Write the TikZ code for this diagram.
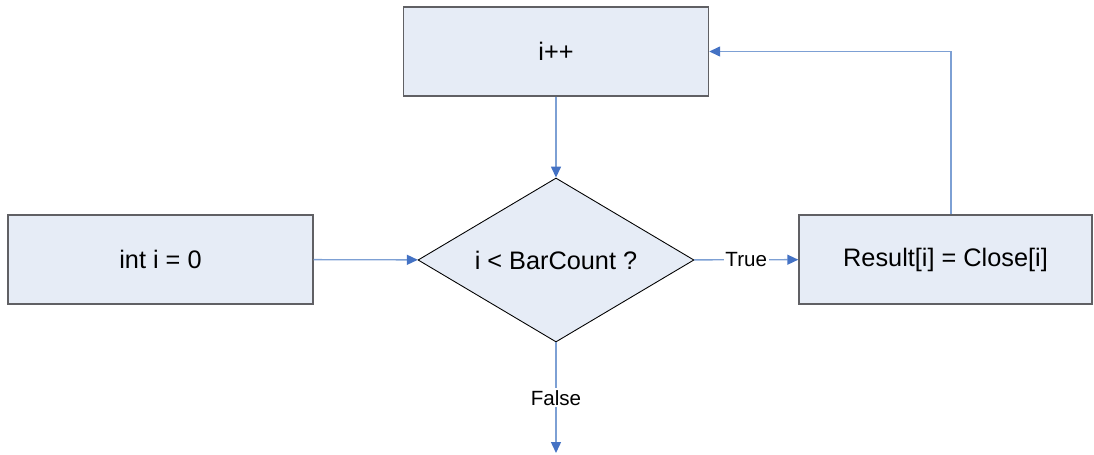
\documentclass[tikz,border=0pt]{standalone}
\usepackage{fontspec}
\setmainfont{Liberation Sans}
\usetikzlibrary{shapes.geometric,arrows.meta}
\definecolor{caixa}{RGB}{230,236,246}
\definecolor{borda}{RGB}{96,96,100}
\definecolor{linha}{RGB}{125,160,212}
\definecolor{ponta}{RGB}{68,114,196}
\begin{document}
\begin{tikzpicture}[
	bloco/.style={draw=borda, line width=0.8pt, fill=caixa, minimum width=6.1cm, minimum height=1.78cm, font=\fontsize{14.4}{17}\selectfont},
	decisao/.style={diamond, draw=black, line width=0.5pt, fill=caixa, minimum width=5.52cm, minimum height=3.28cm, aspect=1.68, inner sep=0pt, font=\fontsize{14.4}{17}\selectfont},
	seta/.style={draw=linha, line width=0.8pt, -{Triangle[length=2.2mm,width=2mm,color=ponta]}},
	rotulo/.style={fill=white, inner sep=1pt, font=\fontsize{11.7}{14}\selectfont}
	] %Início do fluxograma
	\useasboundingbox (0,0) rectangle (21.88,-9.1); %Margens da figura
		%Blocos
	\node[bloco] (inc) at (11.12,-1.03) {i++}; %Incremento
	\node[bloco] (init) at (3.21,-5.19) {int i = 0}; %Inicialização
	\node[decisao] (cond) at (11.12,-5.2) {i < BarCount ?}; %Teste do laço
	\node[bloco, minimum width=5.86cm] (res) at (18.91,-5.19) {Result[i] = Close[i]}; %Corpo do laço
	\coordinate (fim) at (11.12,-9.06); %Saída
		%Conexões
	\draw[seta] (init) -- (cond);
	\draw[seta] (inc) -- (cond);
	\draw[seta] (cond) -- node[rotulo] {True} (res);
	\draw[seta] (cond) -- node[rotulo] {False} (fim);
	\draw[seta] (res.north -| 19.02,0) |- (inc); %Volta ao incremento
\end{tikzpicture}
\end{document}
